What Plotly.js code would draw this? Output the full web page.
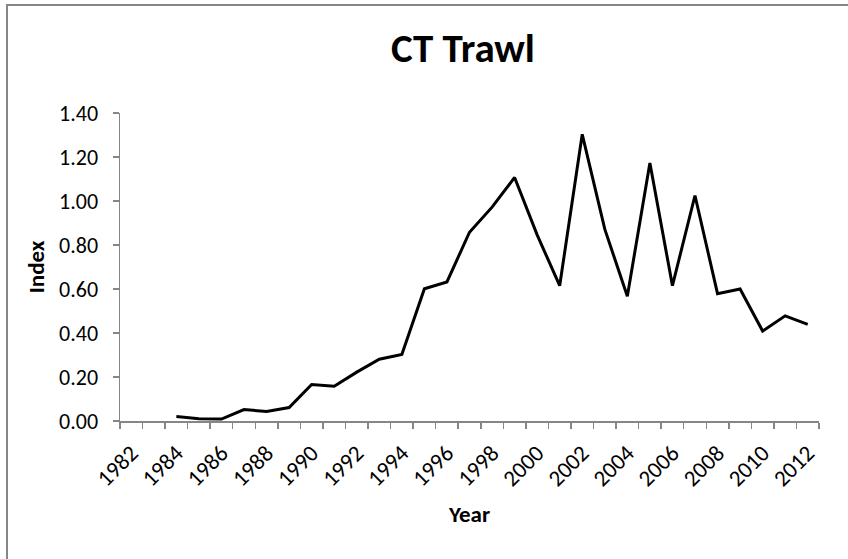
<!DOCTYPE html>
<html>
<head>
<meta charset="utf-8">
<script src="https://cdn.plot.ly/plotly-3.0.1.min.js"></script>
<style>
  html, body { margin: 0; padding: 0; background: #ffffff; overflow: hidden; }
  #wrap { position: relative; width: 848px; height: 559px; overflow: hidden; }
  #chart { width: 848px; height: 559px; }
  #frame {
    position: absolute; left: 6px; top: 4px; width: 900px; height: 600px;
    border-left: 2px solid #868686; border-top: 2px solid #868686;
    pointer-events: none;
  }
</style>
</head>
<body>
<div id="wrap">
  <div id="chart"></div>
  <div id="frame"></div>
</div>
<script>
// ---- data ----
var years = [1984, 1985, 1986, 1987, 1988, 1989, 1990, 1991, 1992, 1993, 1994, 1995, 1996, 1997, 1998,
             1999, 2000, 2001, 2002, 2003, 2004, 2005, 2006, 2007, 2008, 2009, 2010, 2011, 2012];
var indexValues = [0.020, 0.010, 0.009, 0.052, 0.043, 0.061, 0.166, 0.158, 0.222, 0.281, 0.302, 0.601, 0.632, 0.858, 0.972,
                   1.107, 0.846, 0.615, 1.303, 0.872, 0.567, 1.173, 0.615, 1.025, 0.579, 0.600, 0.409, 0.478, 0.439];
var tickYears = [1982, 1984, 1986, 1988, 1990, 1992, 1994, 1996, 1998, 2000, 2002, 2004, 2006, 2008, 2010, 2012];
var tickLabels = tickYears.map(String);
var yTicks = [0, 0.2, 0.4, 0.6, 0.8, 1.0, 1.2, 1.4];

var FONT = 'Carlito, Lato, "Open Sans", sans-serif';
var AXIS_GRAY = '#868686';

var trace = {
  x: years,
  y: indexValues,
  type: 'scatter',
  mode: 'lines',
  line: { color: '#000000', width: 3 },
  hoverinfo: 'x+y'
};

var layout = {
  width: 848,
  height: 559,
  paper_bgcolor: '#ffffff',
  plot_bgcolor: '#ffffff',
  showlegend: false,
  margin: { l: 120, r: 29, t: 113, b: 138, pad: 0 },
  font: { family: FONT, color: '#000000', size: 22 },
  title: {
    text: '<b>CT Trawl</b>',
    font: { family: FONT, size: 41, color: '#000000' },
    xref: 'container', x: 0.546, xanchor: 'center',
    yref: 'container', y: 0.914, yanchor: 'middle'
  },
  xaxis: {
    range: [1981.5, 2012.5],
    tickmode: 'array',
    tickvals: tickYears,
    ticktext: tickLabels,
    tickangle: -45,
    ticks: '',
    ticklabelstandoff: 8,
    showgrid: false,
    zeroline: false,
    showline: true,
    linecolor: AXIS_GRAY,
    linewidth: 1.5,
    tickfont: { family: FONT, size: 23, color: '#000000' },
    minor: {
      ticks: 'outside',
      tick0: 1981.5,
      dtick: 1,
      ticklen: 6,
      tickwidth: 1.5,
      tickcolor: AXIS_GRAY,
      showgrid: false
    },
    title: {
      text: '<b>Year</b>',
      font: { family: FONT, size: 23, color: '#000000' },
      standoff: 15
    },
    automargin: false,
    fixedrange: true
  },
  yaxis: {
    range: [0, 1.4],
    tickmode: 'array',
    tickvals: yTicks,
    tickformat: '.2f',
    ticks: 'outside',
    ticklen: 6,
    tickwidth: 1.5,
    tickcolor: AXIS_GRAY,
    ticklabelstandoff: 10,
    showgrid: false,
    zeroline: false,
    showline: true,
    linecolor: AXIS_GRAY,
    linewidth: 1.5,
    tickfont: { family: FONT, size: 22, color: '#000000' },
    title: {
      text: '<b>Index</b>',
      font: { family: FONT, size: 23, color: '#000000' },
      standoff: 8
    },
    automargin: false,
    fixedrange: true
  }
};

Plotly.newPlot('chart', [trace], layout, { displayModeBar: false, staticPlot: true });
</script>
</body>
</html>
